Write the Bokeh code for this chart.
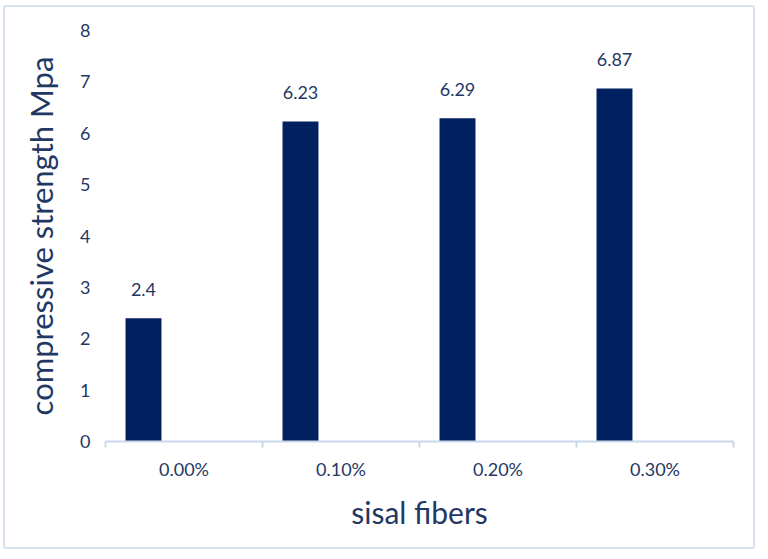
from bokeh.plotting import figure
from bokeh.models import ColumnDataSource, Range1d, FixedTicker, LabelSet
from bokeh.core.properties import value
from bokeh.embed import file_html
from bokeh.resources import INLINE

categories = ["0.00%", "0.10%", "0.20%", "0.30%"]
values = [2.4, 6.23, 6.29, 6.87]
value_labels = ["2.4", "6.23", "6.29", "6.87"]
y_ticks = [0, 1, 2, 3, 4, 5, 6, 7, 8]

BAR = "#002060"
TXT = "#1f3864"
AXC = "#c9d7ea"
FONT = "Lato"

centers = [i + 0.5 for i in range(len(categories))]
bar_x = [c - 0.258 for c in centers]
src = ColumnDataSource(dict(x=bar_x, top=values, lab=value_labels))

p = figure(width=752, height=544, output_backend="svg", toolbar_location=None,
           x_range=Range1d(0, len(categories)), y_range=Range1d(0, 8),
           min_border_left=100, min_border_right=24, min_border_top=23, min_border_bottom=110)
p.styles = {"border": "2px solid #d6e0ee", "border-radius": "3px",
            "margin-left": "3px", "margin-top": "5px"}
p.outline_line_color = None
p.grid.visible = False

p.vbar(x="x", top="top", width=0.229, bottom=0, source=src, fill_color=BAR, line_color=None)

labels = LabelSet(x="x", y="top", text="lab", source=src, y_offset=29,
                  text_align="center", text_baseline="middle",
                  text_font=value(FONT), text_font_size=value("18px"), text_color=value(TXT))
p.add_layout(labels)

xa = p.xaxis[0]
xa.ticker = FixedTicker(ticks=centers, minor_ticks=list(range(len(categories) + 1)))
xa.major_label_overrides = {c: cat for c, cat in zip(centers, categories)}
xa.major_tick_line_color = None
xa.major_tick_out = 0
xa.major_tick_in = 0
xa.minor_tick_line_color = AXC
xa.minor_tick_line_width = 2
xa.minor_tick_out = 6
xa.minor_tick_in = 0
xa.axis_line_color = AXC
xa.axis_line_width = 2
xa.major_label_standoff = 10
xa.major_label_text_font = FONT
xa.major_label_text_font_size = "18px"
xa.major_label_text_color = TXT
xa.axis_label = "sisal fibers"
xa.axis_label_text_font = FONT
xa.axis_label_text_font_size = "30px"
xa.axis_label_text_font_style = "normal"
xa.axis_label_text_color = TXT
xa.axis_label_standoff = 11

ya = p.yaxis[0]
ya.ticker = FixedTicker(ticks=y_ticks)
ya.axis_line_color = None
ya.major_tick_line_color = None
ya.minor_tick_line_color = None
ya.major_label_standoff = 9
ya.major_label_text_font = FONT
ya.major_label_text_font_size = "18px"
ya.major_label_text_color = TXT
ya.axis_label = "compressive strength Mpa"
ya.axis_label_text_font = FONT
ya.axis_label_text_font_size = "31px"
ya.axis_label_text_font_style = "normal"
ya.axis_label_text_color = TXT
ya.axis_label_standoff = 17

open("out.html", "w").write(file_html(p, INLINE))
